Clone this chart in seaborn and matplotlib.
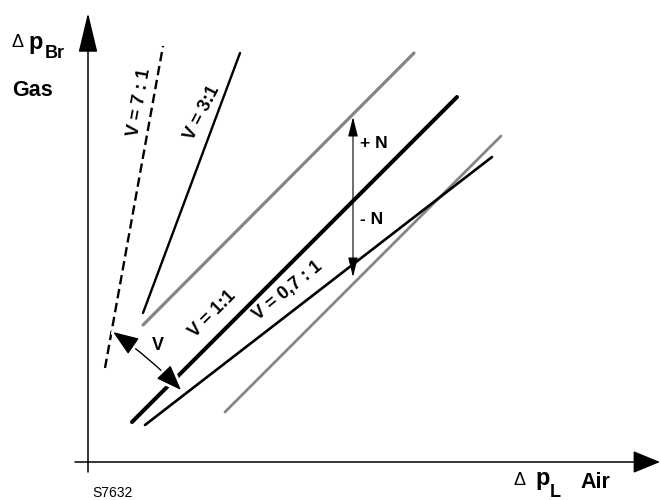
import matplotlib
matplotlib.use("Agg")
import matplotlib.pyplot as plt
import matplotlib.patheffects as pe
import seaborn as sns

sns.set_theme(style="white")
plt.rcParams['font.family'] = ['Liberation Sans', 'DejaVu Sans']

# line end points (x = dp_L, y = dp_Br), origin at the axes crossing
v71_x = [17, 75]
v71_y = [94, 416]
v31_x = [55, 152]
v31_y = [149, 409]
v11_x = [44, 369]
v11_y = [40, 365]
v07_x = [57, 404]
v07_y = [37, 305]
upper_x = [55, 326]
upper_y = [137, 409]
lower_x = [137, 413]
lower_y = [50, 326]

# tolerance arrow +N / -N
n_x = 265
n_top = 345
n_bottom = 185

# angle arrow V
v_start = (25, 130)
v_end = (93, 72)

fig = plt.figure(figsize=(6.61, 5.0), dpi=100)
ax = fig.add_axes([0, 0, 1, 1])
ax.set_xlim(-88, 573)
ax.set_ylim(-38, 462)
ax.axis('off')

gray = '#858585'
sns.lineplot(x=upper_x, y=upper_y, ax=ax, color=gray, linewidth=2.3,
             estimator=None, sort=False, zorder=2)
sns.lineplot(x=lower_x, y=lower_y, ax=ax, color=gray, linewidth=2.0,
             estimator=None, sort=False, zorder=2)
sns.lineplot(x=v11_x, y=v11_y, ax=ax, color='black', linewidth=2.9,
             estimator=None, sort=False, zorder=2)
sns.lineplot(x=v31_x, y=v31_y, ax=ax, color='black', linewidth=1.7,
             estimator=None, sort=False, zorder=2)
sns.lineplot(x=v71_x, y=v71_y, ax=ax, color='black', linewidth=1.7,
             linestyle=(0, (4, 2)), estimator=None, sort=False, zorder=2)

# V arrow with white halo (cuts the 1:1 line)
ax.annotate('', xy=v_end, xytext=v_start,
            arrowprops=dict(arrowstyle='<|-|>,head_length=16,head_width=6',
                            mutation_scale=1, color='black', lw=1.0,
                            shrinkA=0, shrinkB=0,
                            connectionstyle='arc3,rad=-0.05',
                            path_effects=[pe.withStroke(linewidth=5, foreground='white')]),
            zorder=3)

sns.lineplot(x=v07_x, y=v07_y, ax=ax, color='black', linewidth=1.9,
             estimator=None, sort=False, zorder=4)

# +N / -N arrow
ax.annotate('', xy=(n_x, n_top), xytext=(n_x, n_bottom),
            arrowprops=dict(arrowstyle='<|-|>,head_length=12,head_width=3',
                            mutation_scale=1, color='black', lw=0.8,
                            shrinkA=0, shrinkB=0), zorder=5)

# axes
ax.annotate('', xy=(0, 449), xytext=(0, -10),
            arrowprops=dict(arrowstyle='-|>,head_length=25,head_width=6',
                            mutation_scale=1, color='black', lw=1.1,
                            shrinkA=0, shrinkB=0))
ax.annotate('', xy=(572, 0), xytext=(-13, 0),
            arrowprops=dict(arrowstyle='-|>,head_length=17,head_width=7',
                            mutation_scale=1, color='black', lw=1.1,
                            shrinkA=0, shrinkB=0))

bold = dict(fontweight='bold', color='black')
ax.text(52, 360, 'V = 7 : 1', rotation=80, ha='center', va='center', fontsize=13, **bold)
ax.text(114, 349, 'V = 3:1', rotation=63, ha='center', va='center', fontsize=13, **bold)
ax.text(125, 148, 'V = 1:1', rotation=45, ha='center', va='center', fontsize=13, **bold)
ax.text(200, 171, 'V = 0,7 : 1', rotation=39, ha='center', va='center', fontsize=13, **bold)
ax.text(272, 319, '+ N', ha='left', va='center', fontsize=12.5, **bold)
ax.text(272, 242, '- N', ha='left', va='center', fontsize=12.5, **bold)
ax.text(70, 116, 'V', ha='center', va='center', fontsize=13, **bold)

# axis titles
ax.text(-77, 415, '\u0394', ha='left', va='baseline', fontsize=13, color='black')
ax.text(-60, 413, 'p', ha='left', va='baseline', fontsize=17, **bold)
ax.text(-43, 404, 'Br', ha='left', va='baseline', fontsize=13, **bold)
ax.text(-76, 372, 'Gas', ha='left', va='center', fontsize=15.5, **bold)

ax.text(426, -23, '\u0394', ha='left', va='baseline', fontsize=13, color='black')
ax.text(447, -23, 'p', ha='left', va='baseline', fontsize=17, **bold)
ax.text(462, -35, 'L', ha='left', va='baseline', fontsize=13, **bold)
ax.text(492, -26, 'Air', ha='left', va='baseline', fontsize=15.5, **bold)

ax.text(4, -31, 'S7632', ha='left', va='center', fontsize=10, color='black')

fig.savefig('out.png', dpi=100, facecolor='white')
